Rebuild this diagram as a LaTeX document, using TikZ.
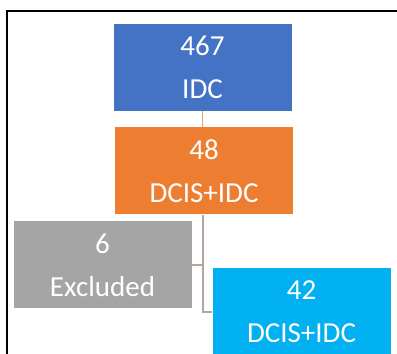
\documentclass[tikz,border=0pt]{standalone}
\usepackage{fontspec}
\setmainfont{Carlito}
\usepackage{tikz}
\usetikzlibrary{positioning}

\definecolor{idcblue}{HTML}{4472C4}
\definecolor{dcisorange}{HTML}{ED7D31}
\definecolor{exclgray}{HTML}{A5A5A5}
\definecolor{keptblue}{HTML}{00B0F0}
\definecolor{linkorange}{HTML}{E8A272}
\definecolor{linkgray}{HTML}{B4A69C}

\begin{document}
\begin{tikzpicture}[  x=1pt, y=1pt,  font=\fontsize{29}{43}\selectfont,  box/.style={minimum width=178pt, minimum height=87pt, inner sep=0pt, text=white, align=center},  link/.style={draw, line width=1.2pt},  ]

  \useasboundingbox (0,0) rectangle (397,354);
  \draw[line width=2pt] (7,-20) |- (420,343);

  \node[box, fill=idcblue] (idc) at (202.5,286.5) {467\\IDC};
  \node[box, fill=dcisorange, below=16pt of idc, xshift=1.5pt] (dcis) {48\\DCIS+IDC};
  \node[box, fill=exclgray] (excl) at (102.5,89) {6\\Excluded};
  \node[box, fill=keptblue] (kept) at (301.5,42) {42\\DCIS+IDC};

  \draw[link, linkorange] (idc.south) -- (idc.south |- dcis.north);
  \coordinate (stem) at ([xshift=-1pt]dcis.south);
  \draw[link, linkgray] (stem) |- (kept.west);
  \draw[link, linkgray] (stem |- excl.east) -- (excl.east);
\end{tikzpicture}
\end{document}
